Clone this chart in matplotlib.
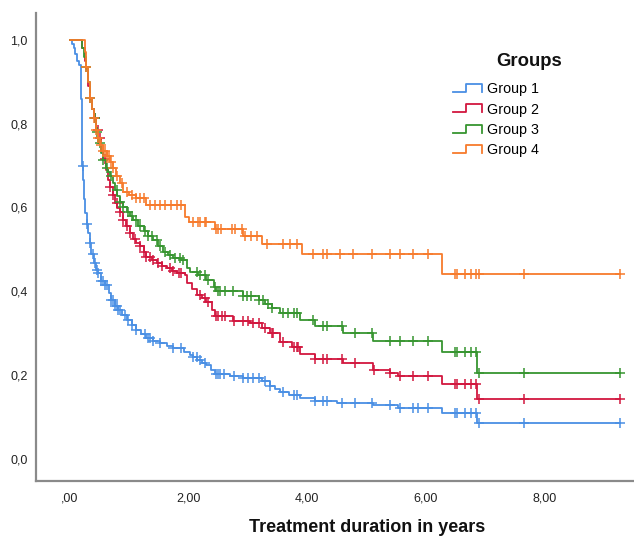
import numpy as np
import matplotlib
matplotlib.use("Agg")
import matplotlib.pyplot as plt
from matplotlib.legend_handler import HandlerBase
from matplotlib.lines import Line2D

plt.rcParams['font.family'] = ['Liberation Sans', 'DejaVu Sans']

groups = ["Group 1", "Group 2", "Group 3", "Group 4"]
colors = ["#4a8fe4", "#d2173f", "#379530", "#f77b2c"]
end_time = 9.27

g1_t = [0, 0.03, 0.06, 0.09, 0.12, 0.15, 0.18, 0.19, 0.20, 0.21, 0.22, 0.24, 0.26, 0.28, 0.30, 0.33,
        0.36, 0.40, 0.44, 0.48, 0.53, 0.59, 0.65, 0.70, 0.76, 0.81, 0.88, 0.96, 1.04, 1.12, 1.20, 1.29,
        1.40, 1.52, 1.64, 1.74, 1.93, 2.02, 2.08, 2.15, 2.22, 2.30, 2.38, 2.45, 2.70, 2.92, 3.23, 3.37,
        3.45, 3.54, 3.70, 3.88, 4.13, 4.50, 5.11, 5.53, 6.27, 6.86]
g1_s = [1.0, 0.99, 0.98, 0.965, 0.95, 0.94, 0.925, 0.86, 0.78, 0.70, 0.666, 0.62, 0.587, 0.56, 0.54, 0.515,
        0.49, 0.467, 0.45, 0.443, 0.425, 0.415, 0.395, 0.379, 0.365, 0.355, 0.343, 0.332, 0.32, 0.308, 0.298, 0.288,
        0.282, 0.276, 0.27, 0.264, 0.255, 0.248, 0.244, 0.236, 0.230, 0.224, 0.212, 0.203, 0.198, 0.193, 0.185, 0.173,
        0.167, 0.161, 0.152, 0.145, 0.139, 0.134, 0.129, 0.122, 0.110, 0.087]
g1_c = [0.215, 0.28, 0.34, 0.39, 0.42, 0.45, 0.48, 0.53, 0.56, 0.59, 0.62, 0.70, 0.73, 0.76, 0.79, 0.81, 0.84,
        0.93, 0.98, 1.04, 1.12, 1.26, 1.32, 1.35, 1.40, 1.52, 1.74, 1.88, 2.08, 2.14, 2.19, 2.28, 2.47, 2.50,
        2.53, 2.59, 2.76, 2.92, 3.01, 3.09, 3.18, 3.29, 3.37, 3.60, 3.77, 3.82, 4.13, 4.27, 4.33, 4.58, 4.81,
        5.09, 5.40, 5.56, 5.79, 5.87, 6.04, 6.49, 6.52, 6.66, 6.77, 6.85, 6.90, 7.66, 9.27]

g2_t = [0, 0.21, 0.25, 0.27, 0.30, 0.33, 0.37, 0.41, 0.44, 0.48, 0.53, 0.56, 0.60, 0.64, 0.67, 0.72, 0.76,
        0.80, 0.84, 0.90, 0.95, 1.01, 1.07, 1.12, 1.18, 1.24, 1.29, 1.38, 1.46, 1.55, 1.63, 1.72, 1.80, 1.94,
        1.97, 2.06, 2.14, 2.22, 2.30, 2.39, 2.45, 2.75, 3.04, 3.23, 3.37, 3.54, 3.74, 3.88, 4.13, 4.61, 5.11,
        5.40, 5.53, 6.27, 6.86]
g2_s = [1.0, 0.98, 0.95, 0.93, 0.89, 0.86, 0.835, 0.813, 0.785, 0.765, 0.735, 0.715, 0.690, 0.665, 0.650, 0.630, 0.610,
        0.598, 0.590, 0.570, 0.555, 0.539, 0.525, 0.515, 0.507, 0.495, 0.483, 0.475, 0.467, 0.461, 0.455, 0.448, 0.443, 0.439,
        0.420, 0.405, 0.391, 0.383, 0.375, 0.356, 0.340, 0.330, 0.324, 0.312, 0.300, 0.280, 0.268, 0.251, 0.239, 0.229, 0.212,
        0.205, 0.197, 0.179, 0.143]
g2_c = [0.42, 0.47, 0.51, 0.59, 0.67, 0.73, 0.79, 0.84, 0.90, 0.96, 1.01, 1.10, 1.18, 1.24, 1.29, 1.35, 1.40,
        1.49, 1.55, 1.69, 1.74, 1.83, 1.88, 2.19, 2.28, 2.33, 2.47, 2.50, 2.56, 2.61, 2.76, 2.92, 3.01, 3.09,
        3.18, 3.29, 3.40, 3.43, 3.60, 3.77, 3.82, 3.85, 4.13, 4.27, 4.33, 4.58, 4.81, 5.13, 5.40, 5.56, 5.79,
        6.04, 6.49, 6.52, 6.66, 6.77, 6.85, 6.90, 7.66, 9.27]

g3_t = [0, 0.21, 0.24, 0.27, 0.30, 0.33, 0.37, 0.41, 0.44, 0.48, 0.53, 0.56, 0.60, 0.64, 0.67, 0.72, 0.76,
        0.80, 0.84, 0.90, 0.96, 1.01, 1.07, 1.15, 1.24, 1.32, 1.40, 1.48, 1.57, 1.65, 1.74, 1.88, 1.97, 2.02,
        2.16, 2.30, 2.42, 2.47, 2.92, 3.18, 3.29, 3.40, 3.54, 3.88, 4.13, 4.61, 5.11, 6.27, 6.86]
g3_s = [1.0, 0.98, 0.96, 0.935, 0.90, 0.861, 0.835, 0.813, 0.78, 0.755, 0.73, 0.714, 0.695, 0.685, 0.674, 0.658, 0.642,
        0.628, 0.614, 0.600, 0.590, 0.580, 0.570, 0.556, 0.543, 0.533, 0.523, 0.509, 0.495, 0.487, 0.479, 0.475, 0.455, 0.447,
        0.439, 0.427, 0.410, 0.400, 0.390, 0.379, 0.370, 0.360, 0.348, 0.332, 0.317, 0.300, 0.282, 0.256, 0.205]
g3_c = [0.27, 0.33, 0.42, 0.45, 0.50, 0.56, 0.62, 0.70, 0.79, 0.84, 0.90, 0.98, 1.04, 1.12, 1.18, 1.26, 1.32,
        1.38, 1.46, 1.52, 1.60, 1.69, 1.77, 1.85, 1.91, 2.14, 2.19, 2.28, 2.33, 2.45, 2.50, 2.53, 2.61, 2.75,
        2.92, 2.98, 3.06, 3.18, 3.26, 3.34, 3.40, 3.60, 3.68, 3.77, 3.82, 4.10, 4.27, 4.33, 4.58, 4.81, 5.09,
        5.40, 5.56, 5.79, 6.04, 6.49, 6.52, 6.66, 6.77, 6.85, 6.90, 7.66, 9.27]

g4_t = [0, 0.25, 0.27, 0.30, 0.33, 0.37, 0.41, 0.44, 0.48, 0.51, 0.56, 0.62, 0.67, 0.73, 0.78, 0.84, 0.90,
        1.0, 1.12, 1.29, 1.94, 2.0, 2.45, 2.92, 3.24, 3.91, 6.27]
g4_s = [1.0, 0.97, 0.935, 0.90, 0.861, 0.835, 0.813, 0.785, 0.765, 0.749, 0.735, 0.722, 0.708, 0.694, 0.675, 0.658, 0.638,
        0.630, 0.622, 0.606, 0.578, 0.566, 0.549, 0.532, 0.513, 0.489, 0.441]
g4_c = [0.27, 0.33, 0.41, 0.44, 0.48, 0.53, 0.56, 0.59, 0.62, 0.65, 0.70, 0.73, 0.79, 0.88, 0.96, 1.04, 1.12,
        1.18, 1.24, 1.35, 1.43, 1.52, 1.60, 1.71, 1.80, 1.88, 2.08, 2.16, 2.28, 2.19, 2.30, 2.47, 2.50, 2.54,
        2.73, 2.78, 2.90, 2.95, 3.06, 3.15, 3.32, 3.60, 3.71, 3.82, 4.10, 4.27, 4.33, 4.55, 4.78, 5.09, 5.40,
        5.56, 5.79, 6.04, 6.49, 6.52, 6.66, 6.77, 6.85, 6.90, 7.66, 9.27]

series = [(g1_t, g1_s, g1_c), (g2_t, g2_s, g2_c), (g3_t, g3_s, g3_c), (g4_t, g4_s, g4_c)]

xticks = [0, 2, 4, 6, 8]
xticklabels = [",00", "2,00", "4,00", "6,00", "8,00"]
yticks = [0.0, 0.2, 0.4, 0.6, 0.8, 1.0]
yticklabels = ["0,0", "0,2", "0,4", "0,6", "0,8", "1,0"]

W, H = 634, 537
fig = plt.figure(figsize=(W / 100, H / 100), dpi=100)
ax = fig.add_axes([36 / W, 1 - 481 / H, 1 - 36 / W, (481 - 13) / H])

for (t, s, c), col, name in zip(series, colors, groups):
    t = np.asarray(t, float)
    s = np.asarray(s, float)
    tt = np.append(t, end_time)
    ss = np.append(s, s[-1])
    ax.step(tt, ss, where="post", color=col, lw=1.3, label=name, zorder=3)
    c = np.asarray(c, float)
    idx = np.searchsorted(t, c, side="right") - 1
    ax.plot(c, s[idx], linestyle="none", marker="+", markersize=7.5, markeredgewidth=1.1,
            color=col, zorder=3)

ax.set_xlim(-0.573, 9.51)
ax.set_ylim(-0.0525, 1.064)
ax.set_xticks(xticks)
ax.set_xticklabels(xticklabels)
ax.set_yticks(yticks)
ax.set_yticklabels(yticklabels)
ax.tick_params(length=0, labelsize=9, colors="#222222")
ax.tick_params(axis="y", pad=6)
ax.tick_params(axis="x", pad=8)
for sp in ["top", "right"]:
    ax.spines[sp].set_visible(False)
for sp in ["left", "bottom"]:
    ax.spines[sp].set_color("#8a8a8a")
    ax.spines[sp].set_linewidth(1.6)

fig.text(367 / W, 1 - 527 / H, "Treatment duration in years", ha="center", va="center",
         fontsize=13, fontweight="bold", color="#111111")


class StepHandler(HandlerBase):
    def create_artists(self, legend, orig_handle, xdescent, ydescent, width, height, fontsize, trans):
        x0, y0 = -xdescent, -ydescent
        xs = [x0, x0 + 0.47 * width, x0 + 0.47 * width, x0 + width, x0 + width]
        ys = [y0 + 0.15 * height, y0 + 0.15 * height, y0 + 0.95 * height, y0 + 0.95 * height, y0 + 0.15 * height]
        ln = Line2D(xs, ys, color=orig_handle.get_color(), lw=1.3, transform=trans)
        return [ln]


handles = [Line2D([], [], color=c) for c in colors]
fig.text(529 / W, 1 - 61 / H, "Groups", ha="center", va="center", fontsize=13.3, fontweight="bold",
         color="#111111")
leg = fig.legend(handles, groups, loc="upper left", bbox_to_anchor=(453 / W, 1 - 82.5 / H),
                 frameon=False, fontsize=10.3, handlelength=2.0, handletextpad=0.35,
                 labelspacing=0.44, borderpad=0, borderaxespad=0,
                 handler_map={Line2D: StepHandler()})

fig.savefig("out.png", dpi=100)
